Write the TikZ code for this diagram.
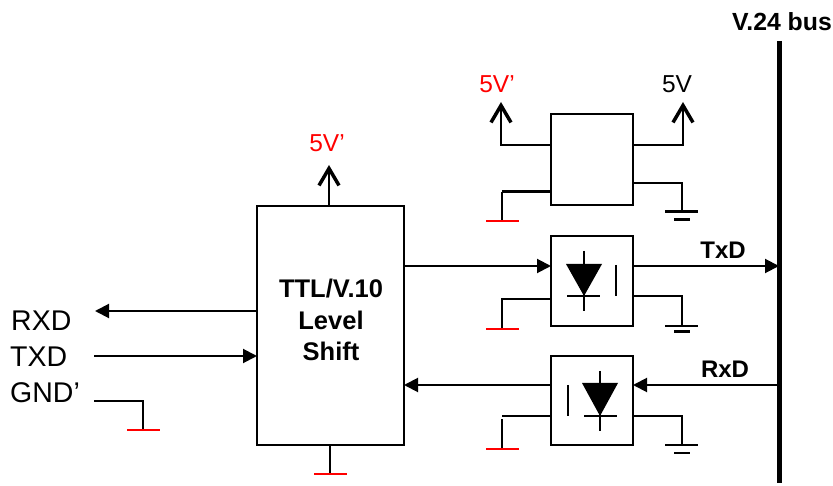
\documentclass[tikz,border=0pt]{standalone}
\usepackage{fontspec}
\setmainfont{Liberation Sans}
\usetikzlibrary{arrows.meta}
\tikzset{
box/.style={draw,line width=2pt,rectangle,inner sep=0pt,outer sep=0pt},
wire/.style={line width=2pt},
bar/.style={line width=3pt},
redbar/.style={line width=2.5pt,red},
feed/.style={line width=2pt,-{Straight Barb[length=17pt,width=20pt,line width=3.5pt]}},
sig/.style={line width=2pt,-{Triangle[length=14pt,width=14pt]}},
big/.style={font=\fontsize{28.5}{30}\selectfont,inner sep=0pt},
mid/.style={font=\fontsize{24.5}{28}\selectfont,inner sep=0pt},
bold/.style={font=\fontsize{24}{26}\selectfont\bfseries,inner sep=0pt},
}
\begin{document}
\begin{tikzpicture}[x=1pt,y=-1pt]
\useasboundingbox (0,0) rectangle (833,486);
% boxes
\node[box,minimum width=147pt,minimum height=239pt] (shift) at (330.5,325.5) {};
\node[bold,align=center,font=\fontsize{25.5}{31.5}\selectfont\bfseries] (shiftlabel) at (331,320) {TTL/V.10\\Level\\Shift};
\node[box,minimum width=82pt,minimum height=91pt] (reg) at (592,159.5) {};
\node[box,minimum width=82pt,minimum height=90pt] (optotx) at (592,281) {};
\node[box,minimum width=82pt,minimum height=89pt] (optorx) at (592,400.5) {};

% bus
\coordinate (bustop) at (779,41);
\coordinate (busbot) at (779,483);
\draw[line width=5pt] (bustop) -- (busbot);
\node[bold,font=\fontsize{24.8}{26}\selectfont\bfseries,anchor=east] (buslabel) at (832,22) {V.24 bus};

% supply labels
\node[mid,red] (vshift) at (327,143) {5V'};
\node[mid,red] (vin) at (497,84) {5V'};
\node[mid] (vout) at (677,84) {5V};

% left side
\node[big,anchor=west] (rxd) at (11,321) {RXD};
\node[big,anchor=west] (txd) at (10,357) {TXD};
\node[big,anchor=west] (gnd) at (10,393) {GND'};
\coordinate (rxdend) at (95,311);
\coordinate (txdstart) at (94,356);
\coordinate (gndstart) at (94,401);
\coordinate (gndcorner) at (143,401);
\coordinate (gndfoot) at (143,430);
\draw[sig] (shift.west |- rxdend) -- (rxdend);
\draw[sig] (txdstart) -- (txdstart -| shift.west);
\draw[wire] (gndstart) -- (gndcorner) -- (gndfoot);
\draw[redbar] (127,430) -- (160,430);

% shift block supply and ground
\coordinate (shifttip) at (329,165);
\coordinate (shiftfoot) at (330,474);
\draw[feed] (shifttip |- shift.north) -- (shifttip);
\draw[wire] (shiftfoot |- shift.south) -- (shiftfoot);
\draw[redbar] (314,474) -- (347,474);

% regulator
\coordinate (r1) at (501,145);
\coordinate (r2) at (683,145);
\coordinate (r3) at (502,192);
\coordinate (r4) at (682,183);
\draw[feed] (reg.west |- r1) -- (r1) -- (501,102);
\draw[feed] (reg.east |- r2) -- (r2) -- (683,102);
\draw[bar] (reg.west |- r3) -- (r3);
\draw[wire] (r3) -- (502,221);
\draw[redbar] (486,221) -- (519,221);
\draw[wire] (reg.east |- r4) -- (r4) -- (682,212);
\draw[bar] (665,212) -- (698,212);
\draw[bar] (674,220) -- (690,220);

% tx opto
\coordinate (t1) at (551,266);
\coordinate (t2) at (502,299);
\coordinate (t3) at (682,296);
\draw[sig] (t1 -| shift.east) -- (t1 -| optotx.west);
\draw[sig] (t1 -| optotx.east) -- (t1 -| bustop);
\node[bold] (txlabel) at (723,250) {TxD};
\fill (566,264) -- (602,264) -- (584,296) -- cycle;
\draw[wire] (584,251) -- (584,311);
\draw[wire] (567,296) -- (600,296);
\draw[wire] (616,265) -- (616,296);
\draw[wire] (optotx.west |- t2) -- (t2) -- (502,329);
\draw[redbar] (486,329) -- (519,329);
\draw[wire] (optotx.east |- t3) -- (t3) -- (682,326);
\draw[wire] (665,326) -- (698,326);
\draw[bar] (674,332) -- (690,332);

% rx opto
\coordinate (u1) at (551,385);
\coordinate (u2) at (502,416);
\coordinate (u3) at (682,416);
\draw[sig] (u1 -| optorx.west) -- (u1 -| shift.east);
\draw[sig] (u1 -| bustop) -- (u1 -| optorx.east);
\node[bold] (rxlabel) at (725,369) {RxD};
\fill (582,383) -- (618,383) -- (600,416) -- cycle;
\draw[wire] (600,371) -- (600,431);
\draw[wire] (584,416) -- (617,416);
\draw[wire] (568,385) -- (568,416);
\draw[wire] (optorx.west |- u2) -- (u2);
\draw[wire] (502,419) -- (502,449);
\draw[redbar] (486,449) -- (519,449);
\draw[wire] (optorx.east |- u3) -- (u3) -- (682,445);
\draw[wire] (665,445) -- (698,445);
\draw[wire] (674,453) -- (690,453);
\end{tikzpicture}
\end{document}
